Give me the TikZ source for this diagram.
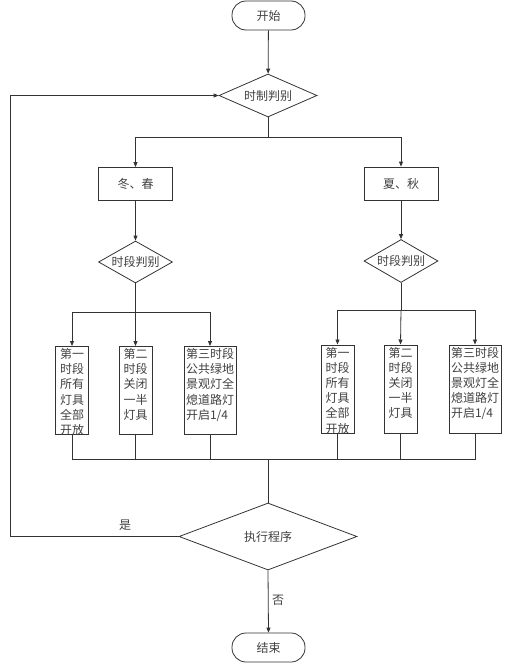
\documentclass[tikz,border=0pt]{standalone}
\usepackage{fontspec}
\setmainfont{Noto Sans CJK SC}
\usetikzlibrary{shapes.geometric,arrows.meta}
\newcommand{\tallbox}[2]{\parbox[c][88pt][t]{#1}{\vspace*{2pt}#2}}
\begin{document}
\begin{tikzpicture}[x=1pt,y=-1pt,
  font=\fontsize{12pt}{15.2pt}\selectfont,
  every node/.style={text=black!75},
  ln/.style={draw=black!80, line width=0.8pt},
  arr/.style={ln, -{Triangle[length=5pt,width=4pt]}},
  term/.style={ln, rectangle, rounded corners=14pt, minimum width=73pt, minimum height=29pt, inner sep=0pt},
  proc/.style={ln, rectangle, minimum width=74pt, minimum height=33pt, inner sep=0pt},
  dec/.style={ln, diamond, inner sep=0pt, aspect=1.6},
  tall/.style={ln, rectangle, inner sep=0pt, anchor=north},
  lbl/.style={inner sep=0pt}
]
\useasboundingbox (0,0) rectangle (508,664);
\node[term] (start) at (268.5,15.5) {开始};
\node[dec, minimum width=98pt, minimum height=43pt, aspect=2.3] (d1) at (268,95.5) {时制判别};
\node[proc] (bL) at (135.5,184) {冬、春};
\node[proc] (bR) at (401,183.5) {夏、秋};
\node[dec, minimum width=74pt, minimum height=42pt] (dL) at (135.5,262) {时段判别};
\node[dec, minimum width=74pt, minimum height=43pt] (dR) at (401,261) {时段判别};

\node[tall] (L1) at (72,346) {\tallbox{33pt}{\centering 第一\\时段\\所有\\灯具\\全部\\开放}};
\node[tall] (L2) at (135.5,346) {\tallbox{33pt}{\centering 第二\\时段\\关闭\\一半\\灯具}};
\node[tall, inner xsep=2pt] (L3) at (210,346) {\tallbox{48pt}{\raggedright 第三时段\\公共绿地\\景观灯全\\熄道路灯\\开启1/4}};
\node[tall] (R1) at (337.5,344.5) {\tallbox{33pt}{\centering 第一\\时段\\所有\\灯具\\全部\\开放}};
\node[tall] (R2) at (400.5,344.5) {\tallbox{33pt}{\centering 第二\\时段\\关闭\\一半\\灯具}};
\node[tall, inner xsep=2pt] (R3) at (475,344.5) {\tallbox{48pt}{\raggedright 第三时段\\公共绿地\\景观灯全\\熄道路灯\\开启1/4}};

\node[dec, minimum width=178pt, minimum height=67pt, aspect=2.6] (d3) at (268,536.5) {执行程序};
\node[term] (stop) at (268.5,647.5) {结束};

\coordinate (j1) at (268,137);
\coordinate (jL) at (135.5,312);
\coordinate (jR) at (401,310);
\coordinate (jB) at (268,459);
\coordinate (lp1) at (10,536.5);
\coordinate (lp2) at (10,95.5);

\draw[arr] (start) -- (d1);
\draw[ln] (d1.south) -- (j1);
\draw[arr] (j1) -| (bL.north);
\draw[arr] (j1) -| (bR.north);
\draw[arr] (bL) -- (dL);
\draw[arr] (bR) -- (dR);
\draw[ln] (dL.south) -- (jL);
\draw[arr] (jL) -| (L1.north);
\draw[arr] (jL) -- (L2.north);
\draw[arr] (jL) -| (L3.north);
\draw[ln] (dR.south) -- (jR);
\draw[arr] (jR) -| (R1.north);
\draw[arr] (jR) -- (R2.north);
\draw[arr] (jR) -| (R3.north);
\draw[ln] (L1.south) |- (jB);
\draw[ln] (R3.south) |- (jB);
\draw[ln] (L2.south) -- (L2.south |- jB);
\draw[ln] (L3.south) -- (L3.south |- jB);
\draw[ln] (R1.south) -- (R1.south |- jB);
\draw[ln] (R2.south) -- (R2.south |- jB);
\draw[ln] (jB) -- (d3.north);
\draw[arr] (d3.west) -- (lp1) -- (lp2) -- (d1.west);
\node[lbl] (yes) at (125,525) {是};
\draw[arr] (d3.south) -- (stop.north);
\node[lbl] (no) at (278,600) {否};
\end{tikzpicture}
\end{document}
